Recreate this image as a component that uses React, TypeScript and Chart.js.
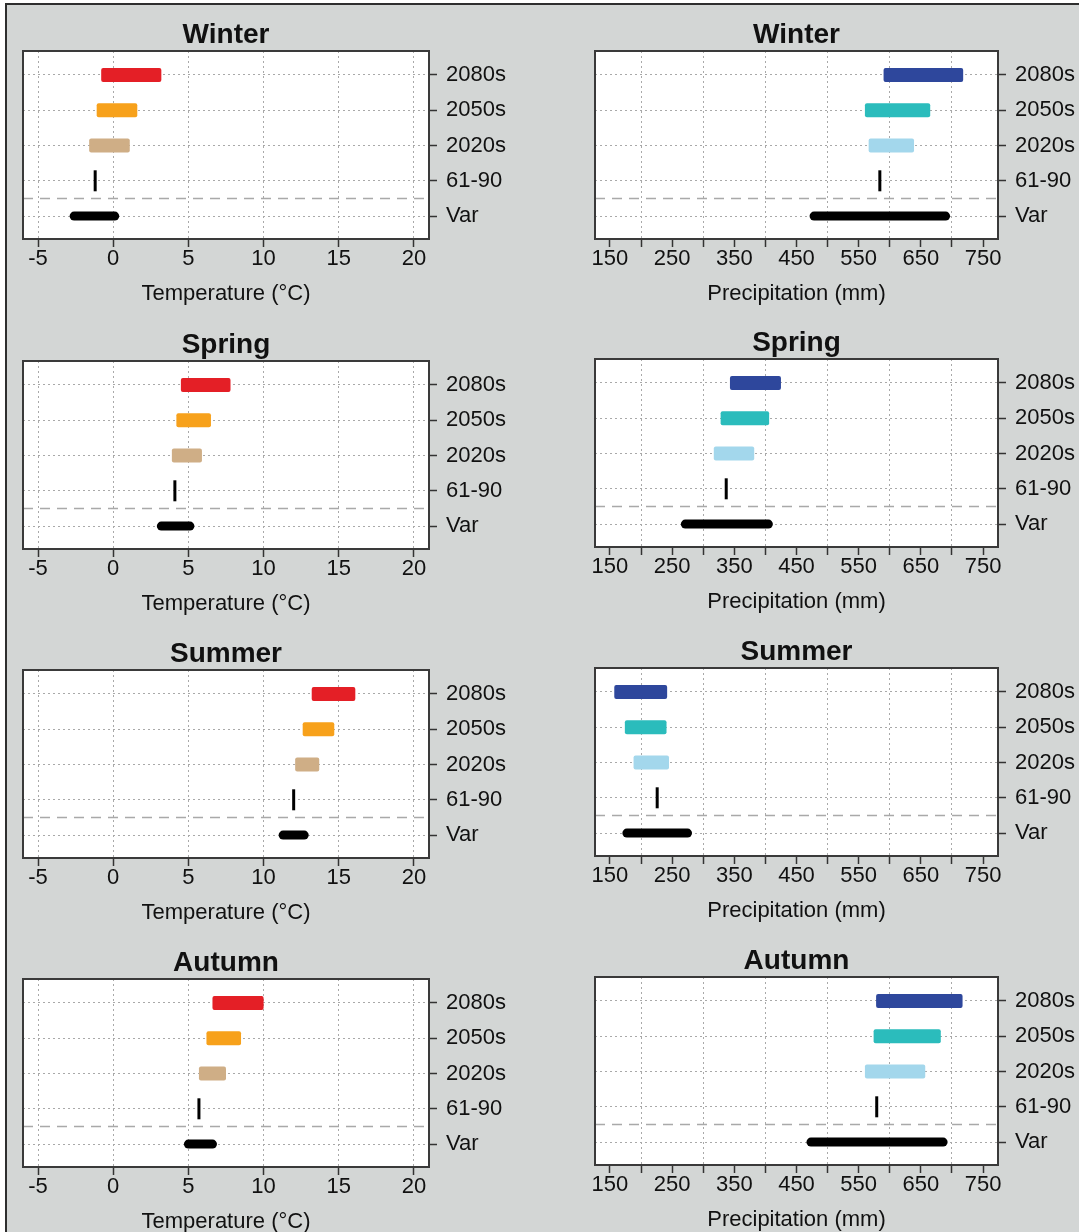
import React, { useEffect, useRef } from 'react';
import { Chart, registerables } from 'chart.js';

Chart.register(...registerables);
Chart.defaults.font.family = "'Liberation Sans', Arial, Helvetica, sans-serif";
Chart.defaults.color = '#111';

// ---- data -------------------------------------------------------------
const SEASONS = ['Winter', 'Spring', 'Summer', 'Autumn'];
const ROW_LABELS = ['2080s', '2050s', '2020s', '61-90', 'Var'];
const ROW_POS = [5, 4, 3, 2, 1];
const SEPARATOR = 1.5; // between the 61-90 baseline row and the Var row

// Temperature (°C), one entry per season (Winter, Spring, Summer, Autumn)
const temp2080s = [[-0.8, 3.2], [4.5, 7.8], [13.2, 16.1], [6.6, 10.0]];
const temp2050s = [[-1.1, 1.6], [4.2, 6.5], [12.6, 14.7], [6.2, 8.5]];
const temp2020s = [[-1.6, 1.1], [3.9, 5.9], [12.1, 13.7], [5.7, 7.5]];
const temp6190 = [-1.2, 4.1, 12.0, 5.7];
const tempVar = [[-2.9, 0.4], [2.9, 5.4], [11.0, 13.0], [4.7, 6.9]];

// Precipitation (mm), one entry per season
const precip2080s = [[590, 718], [343, 425], [157, 242], [578, 717]];
const precip2050s = [[560, 665], [328, 406], [174, 241], [574, 682]];
const precip2020s = [[566, 639], [317, 382], [188, 245], [560, 657]];
const precip6190 = [584, 337, 226, 579];
const precipVar = [[471, 697], [264, 412], [170, 282], [466, 693]];

// axis ticks
const TEMP_TICKS = [-5, 0, 5, 10, 15, 20];
const TEMP_GRID = [-5, 0, 5, 10, 15, 20];
const PRECIP_TICKS = [150, 200, 250, 300, 350, 400, 450, 500, 550, 600, 650, 700, 750];
const PRECIP_LABELED = [150, 250, 350, 450, 550, 650, 750];
const PRECIP_GRID = [200, 300, 400, 500, 600, 700];

const TEMP_RANGE = [-6, 21];
const PRECIP_RANGE = [126, 774];
const ROW_RANGE = [0.35, 5.68];

// ---- styling ------------------------------------------------------------
const PAGE_BG = '#d3d6d5';
const GRID = '#a9a9a9';
const TEMP_COLORS = ['#e41f26', '#f7a11b', '#cfae86'];
const PRECIP_COLORS = ['#2e479c', '#2bbcbc', '#a3d7ec'];

const ROW_TOPS_LEFT = [51, 361, 670, 979];
const ROW_TOPS_RIGHT = [51, 359, 668, 977];
const AREA_H = 188;
const PAD_LEFT = 30;
const TITLE_H = 35;
const XAXIS_H = 68;

type PanelSpec = {
  id: string;
  title: string;
  axisTitle: string;
  bars: number[][];
  colors: string[];
  baseline: number;
  variability: number[];
  range: number[];
  ticks: number[];
  labeled: number[];
  grid: number[];
  left: number;
  top: number;
  areaW: number;
  yAxisW: number;
};

const panelDecor = {
  id: 'panelDecor',
  beforeDraw(chart: any) {
    const { ctx, chartArea: a } = chart;
    ctx.save();
    ctx.fillStyle = '#ffffff';
    ctx.fillRect(a.left, a.top, a.width, a.height);
    ctx.restore();
  },
  beforeDatasetsDraw(chart: any) {
    const { ctx, chartArea: a } = chart;
    const y = chart.scales.y.getPixelForValue(SEPARATOR);
    ctx.save();
    ctx.strokeStyle = '#a9a9a9';
    ctx.lineWidth = 1.5;
    ctx.setLineDash([10, 7]);
    ctx.beginPath();
    ctx.moveTo(a.left, y);
    ctx.lineTo(a.right, y);
    ctx.stroke();
    ctx.restore();
  },
  afterDraw(chart: any) {
    const { ctx, chartArea: a } = chart;
    ctx.save();
    ctx.strokeStyle = '#3a3a3a';
    ctx.lineWidth = 2;
    ctx.strokeRect(a.left, a.top, a.width, a.height);
    ctx.restore();
  },
};

function Panel({ spec }: { spec: PanelSpec }) {
  const ref = useRef<HTMLCanvasElement | null>(null);
  const width = PAD_LEFT + spec.areaW + spec.yAxisW;
  const height = TITLE_H + AREA_H + XAXIS_H;

  useEffect(() => {
    if (!ref.current) return;
    const chart = new Chart(ref.current, {
      type: 'bar',
      data: {
        datasets: [
          {
            type: 'bar',
            data: spec.bars.map((r, i) => ({ x: r, y: ROW_POS[i] })),
            backgroundColor: spec.colors,
            grouped: false,
            maxBarThickness: 14,
            borderRadius: 2,
            borderSkipped: false,
          },
          {
            type: 'bar',
            data: [{ x: spec.variability, y: ROW_POS[4] }],
            backgroundColor: '#000000',
            grouped: false,
            maxBarThickness: 9,
            borderRadius: 5,
            borderSkipped: false,
          },
          {
            type: 'scatter',
            indexAxis: 'x',
            data: [{ x: spec.baseline, y: ROW_POS[3] }],
            showLine: false,
            pointStyle: 'line',
            pointRotation: 90,
            pointRadius: 10.5,
            pointBorderWidth: 3,
            pointBorderColor: '#000000',
            pointBackgroundColor: '#000000',
          },
        ],
      } as any,
      options: {
        indexAxis: 'y',
        responsive: false,
        animation: false,
        events: [],
        layout: { padding: { left: PAD_LEFT, right: 0, top: 0, bottom: 0 } },
        plugins: {
          legend: { display: false },
          tooltip: { enabled: false },
          title: {
            display: true,
            text: spec.title,
            fullSize: false,
            color: '#111',
            font: { size: 28, weight: 'bold', lineHeight: 1.1 },
            padding: { top: 4.2, bottom: 0 },
          },
        },
        scales: {
          x: {
            type: 'linear',
            min: spec.range[0],
            max: spec.range[1],
            offset: false,
            afterBuildTicks: (s: any) => {
              s.ticks = spec.ticks.map((v) => ({ value: v }));
            },
            afterFit: (s: any) => {
              s.height = XAXIS_H;
            },
            ticks: {
              autoSkip: false,
              maxRotation: 0,
              minRotation: 0,
              padding: -1,
              color: '#111',
              font: { size: 22, lineHeight: 1.2 },
              callback: (v: any) => (spec.labeled.includes(Number(v)) ? String(v) : ''),
            },
            grid: {
              color: (c: any) =>
                c.tick && spec.grid.includes(c.tick.value) ? GRID : 'rgba(0,0,0,0)',
              lineWidth: 1,
              drawTicks: true,
              tickLength: 8,
              tickColor: '#333',
              tickWidth: 1.5,
              tickBorderDash: [],
              offset: false,
            },
            border: { display: false, dash: [2, 3] },
            title: {
              display: true,
              text: spec.axisTitle,
              color: '#111',
              font: { size: 22, lineHeight: 1.2 },
              padding: { top: 0, bottom: 0 },
            },
          },
          y: {
            type: 'linear',
            position: 'right',
            min: ROW_RANGE[0],
            max: ROW_RANGE[1],
            offset: false,
            afterBuildTicks: (s: any) => {
              s.ticks = ROW_POS.map((v) => ({ value: v }));
            },
            afterFit: (s: any) => {
              s.width = spec.yAxisW;
            },
            ticks: {
              autoSkip: false,
              padding: 9,
              color: '#111',
              font: { size: 22 },
              callback: (v: any) => ROW_LABELS[ROW_POS.indexOf(Number(v))] ?? '',
            },
            grid: {
              color: GRID,
              lineWidth: 1,
              tickLength: 8,
              tickColor: '#333',
              tickWidth: 1.5,
              tickBorderDash: [],
              offset: false,
            },
            border: { display: false, dash: [2, 3] },
          },
        },
      } as any,
      plugins: [panelDecor],
    });
    return () => chart.destroy();
  }, [spec]);

  return (
    <canvas
      ref={ref}
      width={width}
      height={height}
      style={{
        position: 'absolute',
        left: spec.left - PAD_LEFT,
        top: spec.top - TITLE_H,
        width,
        height,
      }}
    />
  );
}

const PANELS: PanelSpec[] = SEASONS.flatMap((season, i) => [
  {
    id: `t-${season}`,
    title: season,
    axisTitle: 'Temperature (°C)',
    bars: [temp2080s[i], temp2050s[i], temp2020s[i]],
    colors: TEMP_COLORS,
    baseline: temp6190[i],
    variability: tempVar[i],
    range: TEMP_RANGE,
    ticks: TEMP_TICKS,
    labeled: TEMP_TICKS,
    grid: TEMP_GRID,
    left: 23,
    top: ROW_TOPS_LEFT[i],
    areaW: 406,
    yAxisW: 85,
  },
  {
    id: `p-${season}`,
    title: season,
    axisTitle: 'Precipitation (mm)',
    bars: [precip2080s[i], precip2050s[i], precip2020s[i]],
    colors: PRECIP_COLORS,
    baseline: precip6190[i],
    variability: precipVar[i],
    range: PRECIP_RANGE,
    ticks: PRECIP_TICKS,
    labeled: PRECIP_LABELED,
    grid: PRECIP_GRID,
    left: 595,
    top: ROW_TOPS_RIGHT[i],
    areaW: 403,
    yAxisW: 81,
  },
]);

export default function App() {
  return (
    <div
      style={{
        position: 'absolute',
        left: 0,
        top: 0,
        width: 1079,
        height: 1232,
        background: '#ffffff',
        overflow: 'hidden',
      }}
    >
      <div
        style={{
          position: 'absolute',
          left: 5,
          top: 3,
          right: 0,
          bottom: 0,
          background: PAGE_BG,
          borderTop: '2px solid #2e2e2e',
          borderLeft: '2px solid #2e2e2e',
        }}
      />
      {PANELS.map((p) => (
        <Panel key={p.id} spec={p} />
      ))}
    </div>
  );
}
